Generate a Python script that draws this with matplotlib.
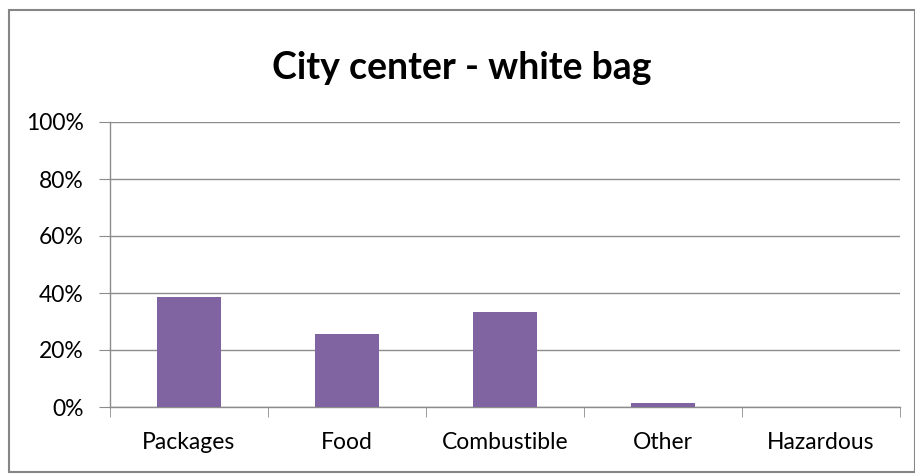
import matplotlib.pyplot as plt
import matplotlib.patches as mpatches
import numpy as np

categories = ["Packages", "Food", "Combustible", "Other", "Hazardous"]
shares = [0.387, 0.256, 0.334, 0.014, 0.0]
yticks = [0, 0.2, 0.4, 0.6, 0.8, 1.0]
ylabels = ["0%", "20%", "40%", "60%", "80%", "100%"]

W, H = 915, 474
fig = plt.figure(figsize=(W / 100, H / 100), dpi=100)
ax = fig.add_axes([110 / W, 1 - 407 / H, 790 / W, 285 / H])

x = np.arange(len(categories))
ax.bar(x, shares, width=0.4, color="#8064A2", zorder=3)

ax.set_xlim(-0.5, len(categories) - 0.5)
ax.set_ylim(0, 1.0)
ax.set_yticks(yticks)
ax.set_yticklabels(ylabels, fontsize=16.5, family="Lato")
ax.set_xticks(x)
ax.set_xticklabels(categories, fontsize=16.5, family="Lato")
ax.set_xticks(np.arange(len(categories) + 1) - 0.5, minor=True)

grid_c = "#8c8c8c"
ax.yaxis.grid(True, color=grid_c, linewidth=1, zorder=0)
for s in ["top", "right"]:
    ax.spines[s].set_visible(False)
for s in ["left", "bottom"]:
    ax.spines[s].set_color(grid_c)
    ax.spines[s].set_linewidth(1)
ax.tick_params(axis="y", length=8, color=grid_c, pad=11)
ax.tick_params(axis="x", which="major", length=0, pad=18)
ax.tick_params(axis="x", which="minor", length=7, color=grid_c)

fig.text(462 / W, 1 - 68 / H, "City center - white bag", ha="center", va="center",
         fontsize=27, fontweight="bold", family="Lato")

# chart frame
fig.patches.append(mpatches.Rectangle((8.5 / W, 1 - 472 / H), 906 / W, 462.5 / H,
                                      transform=fig.transFigure, fill=False,
                                      edgecolor="#868686", linewidth=1.5))

fig.savefig("out.png", dpi=100)
